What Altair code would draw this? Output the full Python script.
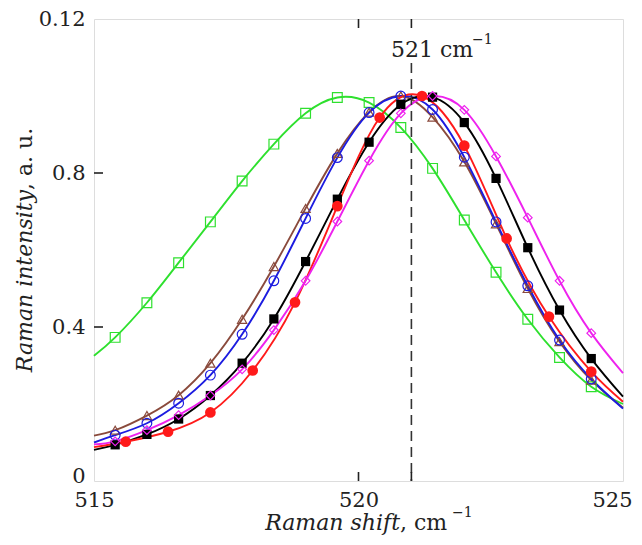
import altair as alt
import pandas as pd

# ---------------- data ----------------
grid_x = [515.4, 516.0, 516.6, 517.2, 517.8, 518.4, 519.0, 519.6,
          520.2, 520.8, 521.4, 522.0, 522.6, 523.2, 523.8, 524.4]
red_x = [515.6, 516.4, 517.2, 518.0, 518.8, 519.6, 520.4, 521.2,
         522.0, 522.8, 523.6, 524.4]

green_y = [0.373, 0.463, 0.567, 0.673, 0.779, 0.875, 0.955, 0.996,
           0.983, 0.918, 0.812, 0.678, 0.542, 0.420, 0.321, 0.245]
brown_y = [0.132, 0.170, 0.223, 0.306, 0.420, 0.557, 0.708, 0.851,
           0.958, 1.000, 0.945, 0.829, 0.668, 0.500, 0.362, 0.262]
blue_y = [0.119, 0.150, 0.202, 0.275, 0.381, 0.520, 0.682, 0.840,
          0.957, 1.000, 0.965, 0.841, 0.673, 0.507, 0.366, 0.265]
black_y = [0.094, 0.121, 0.161, 0.222, 0.306, 0.421, 0.570, 0.732,
           0.880, 0.978, 0.997, 0.931, 0.786, 0.606, 0.444, 0.318]
magenta_y = [0.103, 0.132, 0.171, 0.222, 0.290, 0.392, 0.520, 0.674,
             0.832, 0.955, 1.000, 0.964, 0.843, 0.684, 0.520, 0.384]
red_y = [0.102, 0.128, 0.178, 0.287, 0.464, 0.714, 0.944, 1.000,
         0.871, 0.630, 0.427, 0.284]

# curve values at the frame edges (x = 515 and x = 525)
edge_x = [515.0, 525.0]
edge_y = {
    "green": [0.325, 0.200],
    "brown": [0.118, 0.190],
    "blue": [0.100, 0.188],
    "black": [0.081, 0.219],
    "red": [0.088, 0.206],
    "magenta": [0.095, 0.280],
}

series = ["green", "brown", "blue", "black", "red", "magenta"]
colors = ["#2ee02e", "#8a4a3c", "#1c1ce0", "#000000", "#ff1a1a", "#ee22ee"]
shapes = ["square", "triangle-up", "circle", "square", "circle", "diamond"]
filled = [False, False, False, True, True, False]
sizes = [95, 85, 95, 85, 115, 75]

x_tick_values = [515, 520, 525]
x_tick_labels = ["515", "520", "525"]
y_tick_values = [0, 0.4, 0.8, 1.2]
y_tick_labels = ["0", "0.4", "0.8", "0.12"]
inner_x_ticks = [520, 521]
inner_y_ticks = [0.4, 0.8]
ref_line_x = 521

xs = {"green": grid_x, "brown": grid_x, "blue": grid_x, "black": grid_x,
      "magenta": grid_x, "red": red_x}
ys = {"green": green_y, "brown": brown_y, "blue": blue_y, "black": black_y,
      "magenta": magenta_y, "red": red_y}

# ---------------- tables ----------------
pt_rows, ln_rows = [], []
for s in series:
    for x, y in zip(xs[s], ys[s]):
        pt_rows.append({"s": s, "x": x, "y": y})
    pts = [(edge_x[0], edge_y[s][0])] + list(zip(xs[s], ys[s])) + [(edge_x[1], edge_y[s][1])]
    for x, y in pts:
        ln_rows.append({"s": s, "x": x, "y": y})
pts_df = pd.DataFrame(pt_rows)
lns_df = pd.DataFrame(ln_rows)

W, H = 529, 462
FONT = "DejaVu Serif"
FS = 21
TFS = 22

xscale = alt.Scale(domain=[515, 525], nice=False, zero=False)
yscale = alt.Scale(domain=[0, 1.2], nice=False)
cscale = alt.Scale(domain=series, range=colors)

ylabel_expr = " : ".join(
    [f"datum.value > {v - 0.01} && datum.value < {v + 0.01} ? '{l}'" for v, l in zip(y_tick_values, y_tick_labels)]
) + " : datum.label"
xlabel_expr = " : ".join(
    [f"datum.value == {v} ? '{l}'" for v, l in zip(x_tick_values, x_tick_labels)]
) + " : datum.label"

x_enc = alt.X("x:Q", scale=xscale, axis=alt.Axis(
    values=x_tick_values, labelExpr=xlabel_expr, ticks=False, domain=False, grid=False,
    title=None, labelFont=FONT, labelFontSize=FS, labelColor="#222", labelPadding=8,
    labelFlush=False,
    labelOffset={"condition": {"test": "datum.value == 525", "value": -11}, "value": 0}))
y_enc = alt.Y("y:Q", scale=yscale, axis=alt.Axis(
    values=y_tick_values, labelExpr=ylabel_expr, ticks=False, domain=False, grid=False,
    title=None, labelFont=FONT, labelFontSize=FS, labelColor="#222", labelPadding=9,
    labelFlush=False, labelBaseline="middle",
    labelOffset={"condition": {"test": "datum.value == 0", "value": -5}, "value": 0}))

lines = alt.Chart(lns_df).mark_line(interpolate="natural", strokeWidth=1.9).encode(
    x=x_enc, y=y_enc,
    color=alt.Color("s:N", scale=cscale, legend=None),
    detail="s:N",
)

point_layers = []
for s, c, sh, f, sz in zip(series, colors, shapes, filled, sizes):
    d = pts_df[pts_df.s == s]
    if f:
        mk = alt.Chart(d).mark_point(shape=sh, filled=True, size=sz, color=c, opacity=1)
    else:
        mk = alt.Chart(d).mark_point(shape=sh, filled=False, size=sz, color=c, strokeWidth=1.2, opacity=1)
    point_layers.append(mk.encode(x=alt.X("x:Q", scale=xscale), y=alt.Y("y:Q", scale=yscale)))

ref = alt.Chart(pd.DataFrame({"x": [ref_line_x]})).mark_rule(
    color="#333", strokeWidth=1.6, strokeDash=[10, 6]).encode(
    x=alt.X("x:Q", scale=xscale), y=alt.value(44), y2=alt.value(H))

tick_len = 9
xt = pd.DataFrame({"x": inner_x_ticks})
bt = alt.Chart(xt).mark_rule(color="#222", strokeWidth=1.6).encode(
    x=alt.X("x:Q", scale=xscale), y=alt.value(H), y2=alt.value(H - tick_len))
tt = alt.Chart(xt).mark_rule(color="#222", strokeWidth=1.6).encode(
    x=alt.X("x:Q", scale=xscale), y=alt.value(0), y2=alt.value(tick_len))
yt = alt.Chart(pd.DataFrame({"y": inner_y_ticks})).mark_rule(color="#222", strokeWidth=1.6).encode(
    y=alt.Y("y:Q", scale=yscale), x=alt.value(0), x2=alt.value(tick_len))

one = alt.Data(values=[{"a": 1}])


def txt(text, x, y, size=TFS, style="normal", align="left", angle=0, baseline="alphabetic"):
    kw = dict(font=FONT, fontSize=size, fontStyle=style, align=align, baseline=baseline,
              color="#222")
    if angle:
        kw["angle"] = angle
    return alt.Chart(one).mark_text(**kw).encode(
        x=alt.value(x), y=alt.value(y), text=alt.value(text))


texts = [
    # x title
    txt("Raman shift", 306, 511, style="italic", align="right"),
    txt(", cm", 306, 511),
    txt("\u22121", 358, 498, size=14),
    # y title
    txt("Raman intensity", -62, 171, style="italic", align="right", angle=270),
    txt(", a. u.", -62, 171, angle=270),
    # annotation
    txt("521 cm", 297, 38),
    txt("\u22121", 378, 25, size=14),
]

chart = alt.layer(lines, *point_layers, ref, bt, tt, yt, *texts).properties(
    width=W, height=H,
    autosize=alt.AutoSizeParams(type="none"),
    padding={"left": 86, "top": 11, "right": 11, "bottom": 56},
).configure_view(stroke="#222", strokeWidth=2.4).configure(background="white")

chart.save("out.html", embed_options={"renderer": "svg", "actions": False})
